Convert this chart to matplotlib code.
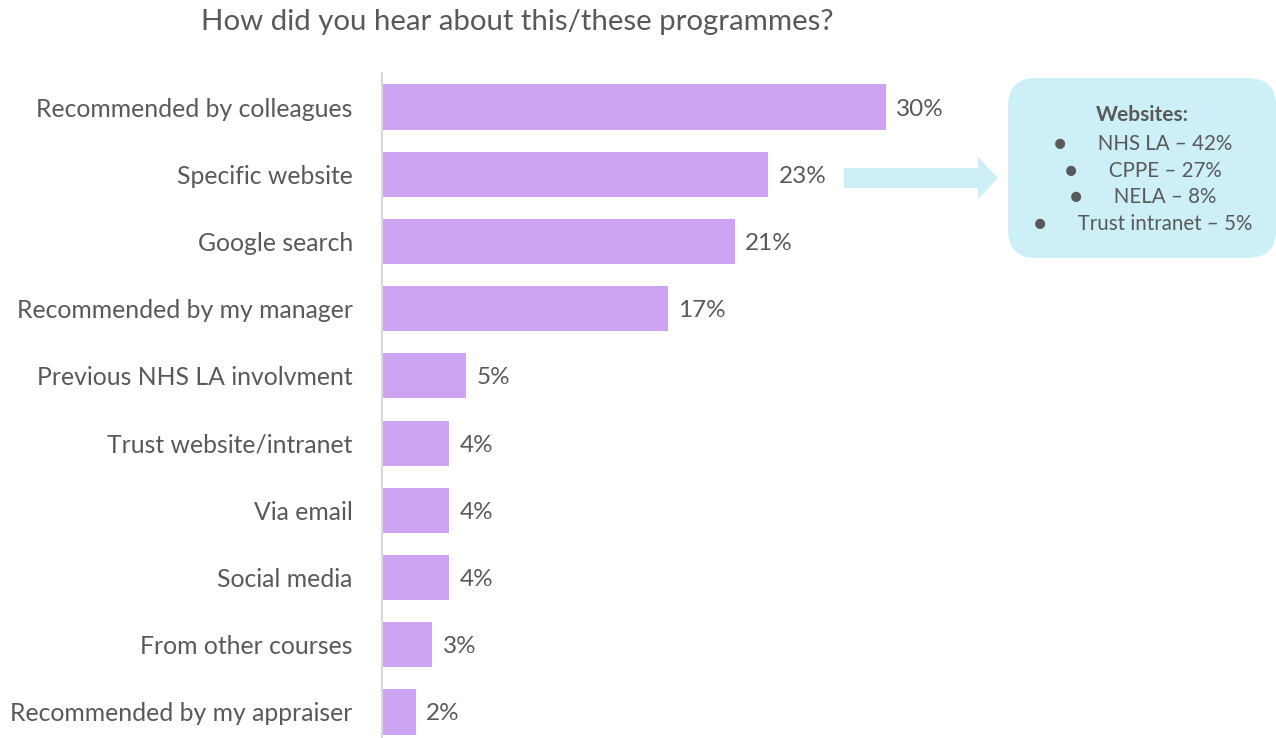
import matplotlib.pyplot as plt
from matplotlib.patches import FancyBboxPatch, FancyArrow

# survey answers, shares in percent
categories = ['Recommended by colleagues', 'Specific website', 'Google search',
              'Recommended by my manager', 'Previous NHS LA involvment',
              'Trust website/intranet', 'Via email', 'Social media',
              'From other courses', 'Recommended by my appraiser']
values = [30, 23, 21, 17, 5, 4, 4, 4, 3, 2]

# breakdown of the "Specific website" answer
web_sources = ['NHS LA', 'CPPE', 'NELA', 'Trust intranet']
web_shares = [42, 27, 8, 5]

grey = '#595959'
bar_colour = '#CCA4F1'
box_colour = '#CDF0F8'
plt.rcParams['font.family'] = ['Lato', 'DejaVu Sans']

W, H = 1276, 738
fig = plt.figure(figsize=(W / 100, H / 100), dpi=100)

ax = fig.add_axes([382 / W, 0, (W - 382) / W, (H - 73.4) / H])
ypos = list(range(len(categories)))
ax.barh(ypos, values, height=0.67, color=bar_colour)
ax.set_xlim(0, (W - 382) / 16.8)
ax.set_ylim(9.5 - 7.6 / 67.2, -0.5)
for y, v in zip(ypos, values):
    ax.text(v + 0.62, y, f'{v}%', va='center_baseline', ha='left',
            fontsize=17.5, color=grey)
ax.set_yticks(ypos)
ax.set_yticklabels(categories, fontsize=17.8, color=grey)
ax.tick_params(axis='y', length=0, pad=21)
ax.set_xticks([])
for s in ['top', 'right', 'bottom']:
    ax.spines[s].set_visible(False)
ax.spines['left'].set_color('#D9D9D9')
ax.spines['left'].set_linewidth(1.5)

# overlay in pixel coordinates for the title and the callout
ov = fig.add_axes([0, 0, 1, 1], facecolor='none')
ov.set_xlim(0, W)
ov.set_ylim(H, 0)
ov.axis('off')

ov.text(517, 22, 'How did you hear about this/these programmes?', ha='center',
        va='center', fontsize=21.2, color=grey)

ov.add_patch(FancyArrow(844, 178, 134, 0, width=20, head_width=42,
                        head_length=20, length_includes_head=False,
                        color=box_colour, lw=0))
ov.add_patch(FancyBboxPatch((1008, 78), 268, 180,
                            boxstyle='round,pad=0,rounding_size=28',
                            facecolor=box_colour, edgecolor='none'))
ov.text(1142, 115, 'Websites:', ha='center', va='center', fontsize=15,
        fontweight='bold', color=grey)
for i, (src, share) in enumerate(zip(web_sources, web_shares)):
    ov.text(1143, 144 + i * 26.7, f'\u25CF      {src} \u2013 {share}%', ha='center',
            va='center', fontsize=14.8, color=grey)

fig.savefig('out.png', dpi=100)
